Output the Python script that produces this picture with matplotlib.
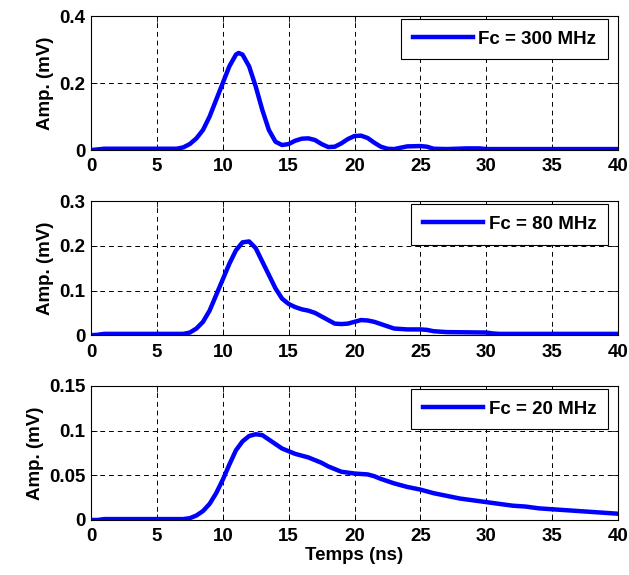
import matplotlib
matplotlib.use("Agg")
import matplotlib.pyplot as plt

plt.rcParams['font.family'] = ['Liberation Sans', 'DejaVu Sans']
plt.rcParams['font.weight'] = 'bold'

# Data
t_300 = [0, 0.5, 1, 5, 6.5, 7, 7.5, 8, 8.5, 9, 9.5, 10, 10.5, 11, 11.2, 11.5, 12, 12.5, 13,
         13.5, 14, 14.5, 15, 15.5, 16, 16.5, 17, 17.5, 18, 18.5, 19, 19.5, 20, 20.5, 21,
         21.5, 22, 22.5, 23, 23.5, 24, 25, 25.5, 26, 27, 28.5, 29.5, 30, 40]
v_300 = [0, 0.002, 0.004, 0.004, 0.004, 0.008, 0.018, 0.035, 0.06, 0.1, 0.15, 0.2, 0.25,
         0.285, 0.29, 0.285, 0.25, 0.19, 0.12, 0.06, 0.025, 0.015, 0.018, 0.028, 0.034,
         0.035, 0.03, 0.018, 0.009, 0.01, 0.02, 0.033, 0.042, 0.043, 0.036, 0.022, 0.01,
         0.004, 0.003, 0.007, 0.011, 0.012, 0.01, 0.004, 0.003, 0.005, 0.005, 0.003, 0.003]

t_80 = [0, 0.5, 1, 5, 7, 7.5, 8, 8.5, 9, 9.5, 10, 10.5, 11, 11.5, 12, 12.5, 13, 13.5, 14,
        14.5, 15, 15.5, 16, 16.5, 17, 17.5, 18, 18.5, 19, 19.5, 20, 20.5, 21, 21.5, 22,
        22.5, 23, 24, 25, 25.5, 26, 27, 30, 30.5, 31, 40]
v_80 = [0, 0.001, 0.003, 0.003, 0.003, 0.006, 0.015, 0.03, 0.055, 0.09, 0.125, 0.16,
        0.19, 0.208, 0.21, 0.195, 0.165, 0.135, 0.105, 0.082, 0.07, 0.063, 0.058, 0.055,
        0.05, 0.042, 0.034, 0.026, 0.025, 0.026, 0.03, 0.034, 0.033, 0.03, 0.025, 0.02,
        0.015, 0.013, 0.013, 0.012, 0.009, 0.007, 0.006, 0.004, 0.003, 0.003]

t_20 = [0, 0.5, 1, 5, 7, 7.5, 8, 8.5, 9, 9.5, 10, 10.5, 11, 11.5, 12, 12.5, 13, 13.5, 14,
        14.5, 15, 15.5, 16, 16.5, 17, 17.5, 18, 18.5, 19, 20, 21, 21.5, 22, 23, 24, 25, 26,
        27, 28, 29, 30, 31, 32, 33, 34, 35, 36, 37, 38, 39, 40]
v_20 = [0, 0, 0.001, 0.001, 0.001, 0.002, 0.005, 0.01, 0.018, 0.03, 0.045, 0.062, 0.078,
        0.088, 0.094, 0.096, 0.095, 0.09, 0.085, 0.08, 0.077, 0.074, 0.072, 0.07, 0.067,
        0.064, 0.06, 0.057, 0.054, 0.052, 0.051, 0.049, 0.046, 0.041, 0.037, 0.034, 0.03,
        0.027, 0.024, 0.022, 0.02, 0.018, 0.016, 0.015, 0.013, 0.012, 0.011, 0.01, 0.009,
        0.008, 0.007]

labels = ['Fc = 300 MHz', 'Fc = 80 MHz', 'Fc = 20 MHz']
ylims = [0.4, 0.3, 0.15]
yticks = [[0, 0.2, 0.4], [0, 0.1, 0.2, 0.3], [0, 0.05, 0.1, 0.15]]
yticklabels = [['0', '0.2', '0.4'], ['0', '0.1', '0.2', '0.3'], ['0', '0.05', '0.1', '0.15']]
xticks = [0, 5, 10, 15, 20, 25, 30, 35, 40]

series = [(t_300, v_300), (t_80, v_80), (t_20, v_20)]

FS = 13.5
fig = plt.figure(figsize=(6.29, 5.75), dpi=100)
left, width, height = 0.1447, 0.8378, 0.233
bottoms = [0.739, 0.417, 0.0957]

for i, (t, v) in enumerate(series):
    ax = fig.add_axes([left, bottoms[i], width, height])
    ax.plot(t, v, color='#0000ff', lw=3.2, label=labels[i], solid_joinstyle='round')
    ax.set_xlim(0, 40)
    ax.set_ylim(0, ylims[i])
    ax.set_xticks(xticks)
    ax.set_xticklabels([str(x) for x in xticks])
    ax.set_yticks(yticks[i])
    ax.set_yticklabels(yticklabels[i])
    ax.grid(True, color='black', linestyle=(0, (5, 4)), lw=0.7)
    ax.tick_params(direction='in', labelsize=FS, length=4, width=0.6, top=True, right=True)
    ax.tick_params(axis='x', pad=6)
    ax.tick_params(axis='y', pad=4)
    for lbl in ax.get_xticklabels() + ax.get_yticklabels():
        lbl.set_fontweight('bold')
    for sp in ax.spines.values():
        sp.set_linewidth(0.8)
    ax.set_ylabel('Amp. (mV)', fontsize=FS, fontweight='bold', labelpad=4)
    leg = ax.legend(loc='upper right', fontsize=FS, handlelength=3.2, handletextpad=0.3,
                    fancybox=False, framealpha=1, edgecolor='black',
                    borderpad=0.62, borderaxespad=0, bbox_to_anchor=(0.981, 0.978))
    leg.get_frame().set_linewidth(0.8)
    for txt in leg.get_texts():
        txt.set_fontweight('bold')
    if i == 2:
        ax.set_xlabel('Temps (ns)', fontsize=FS, fontweight='bold', labelpad=1)

fig.savefig('out.png', dpi=100)
